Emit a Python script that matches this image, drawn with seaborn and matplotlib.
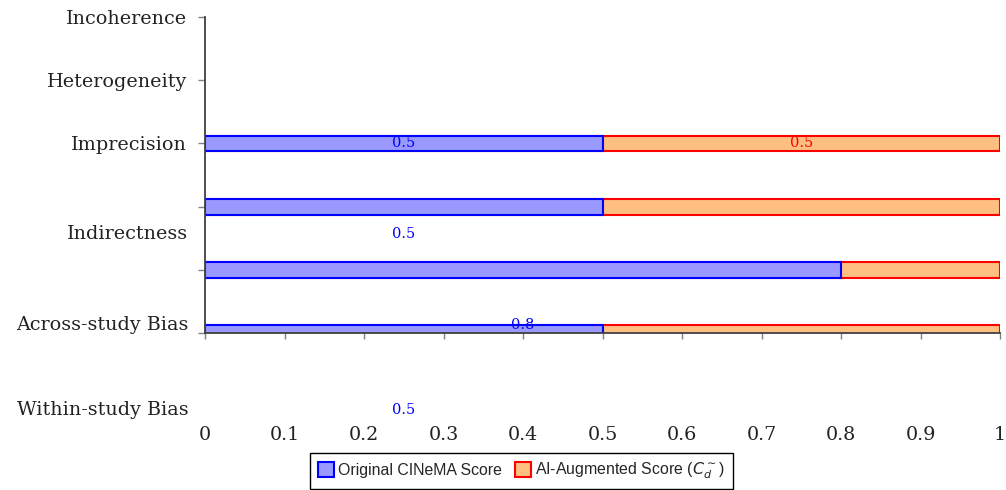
import numpy as np
import pandas as pd
import matplotlib
matplotlib.use('Agg')
from matplotlib import pyplot as plt
from matplotlib import transforms
import seaborn as sns


# GRADE/CINeMA domains, top to bottom
domains = ['Incoherence', 'Heterogeneity', 'Imprecision', 'Indirectness',
           'Across-study Bias', 'Within-study Bias']
scored = ['Imprecision', 'Indirectness', 'Across-study Bias', 'Within-study Bias']
original = [0.5, 0.5, 0.8, 0.5]
augmented = [0.5, 0.5, 0.2, 0.5]
x_ticks = [0, 0.1, 0.2, 0.3, 0.4, 0.5, 0.6, 0.7, 0.8, 0.9, 1]
x_tick_labels = ['0', '0.1', '0.2', '0.3', '0.4', '0.5', '0.6', '0.7', '0.8', '0.9', '1']

# the exported chart has its lower labels slipped downwards
label_shift = {'Indirectness': 0.44, 'Across-study Bias': 0.87, 'Within-study Bias': 1.22}

df = pd.DataFrame({'domain': scored, 'original': original, 'augmented': augmented})
df['total'] = df['original'] + df['augmented']

sns.set_style('ticks')
plt.rcParams['font.family'] = ['DejaVu Serif']
plt.rcParams['mathtext.fontset'] = 'dejavusans'

fig = plt.figure(figsize=(10.06, 4.9), dpi=100)
ax = fig.add_axes([0.2038, 0.3204, 0.7903, 0.6449])

sns.barplot(data=df, x='total', y='domain', order=domains, orient='h',
            color='#FFBF80', edgecolor='#FF0000', linewidth=1.5, saturation=1,
            width=0.25, errorbar=None, label=r'AI-Augmented Score ($C^{\sim}_{d}$)', ax=ax)
sns.barplot(data=df, x='original', y='domain', order=domains, orient='h',
            color='#9999FF', edgecolor='#0000FF', linewidth=1.5, saturation=1,
            width=0.25, errorbar=None, label='Original CINeMA Score', ax=ax)
if ax.get_legend() is not None:
    ax.get_legend().remove()

ax.set_xlim(0, 1)
ax.set_ylim(5, 0)
ax.set_xlabel('')
ax.set_ylabel('')
ax.set_xticks(x_ticks)
ax.set_xticklabels(x_tick_labels, fontsize=13.8, color='#222222')
ax.set_yticks(range(len(domains)))
ax.set_yticklabels([d if d not in label_shift else '' for d in domains],
                   fontsize=13.8, color='#222222')
ax.tick_params(axis='y', length=5, width=1, color='#808080', pad=8)
ax.tick_params(axis='x', length=4, width=1, color='#808080', pad=63)

sns.despine(ax=ax)
for side in ['left', 'bottom']:
    ax.spines[side].set_color('#404040')
    ax.spines[side].set_linewidth(1.3)

# displaced category labels
trans = transforms.blended_transform_factory(ax.transAxes, ax.transData)
for d, shift in label_shift.items():
    ax.text(-0.021, domains.index(d) + shift, d, transform=trans, ha='right',
            va='center', fontsize=13.8, color='#222222')

# value labels
for i, row in df.iterrows():
    pos = domains.index(row['domain']) + label_shift.get(row['domain'], 0)
    ax.text(row['original'] / 2, pos, f"{row['original']:g}", color='#0000FF',
            ha='center', va='center', fontsize=10.5)
first = df.iloc[0]
ax.text(first['original'] + first['augmented'] / 2, domains.index(first['domain']),
        f"{first['augmented']:g}", color='#FF0000', ha='center', va='center', fontsize=10.5)

handles, labels = ax.get_legend_handles_labels()
fig.legend(handles[::-1], labels[::-1], loc='upper left', bbox_to_anchor=(0.308, 0.0755),
           ncol=2, frameon=True, fancybox=False, edgecolor='black', framealpha=1,
           prop={'family': 'Liberation Sans', 'size': 11.4},
           handlelength=1.0, handleheight=1.0, handletextpad=0.3,
           columnspacing=0.8, borderpad=0.5, borderaxespad=0)

fig.savefig('out.png', dpi=100)
